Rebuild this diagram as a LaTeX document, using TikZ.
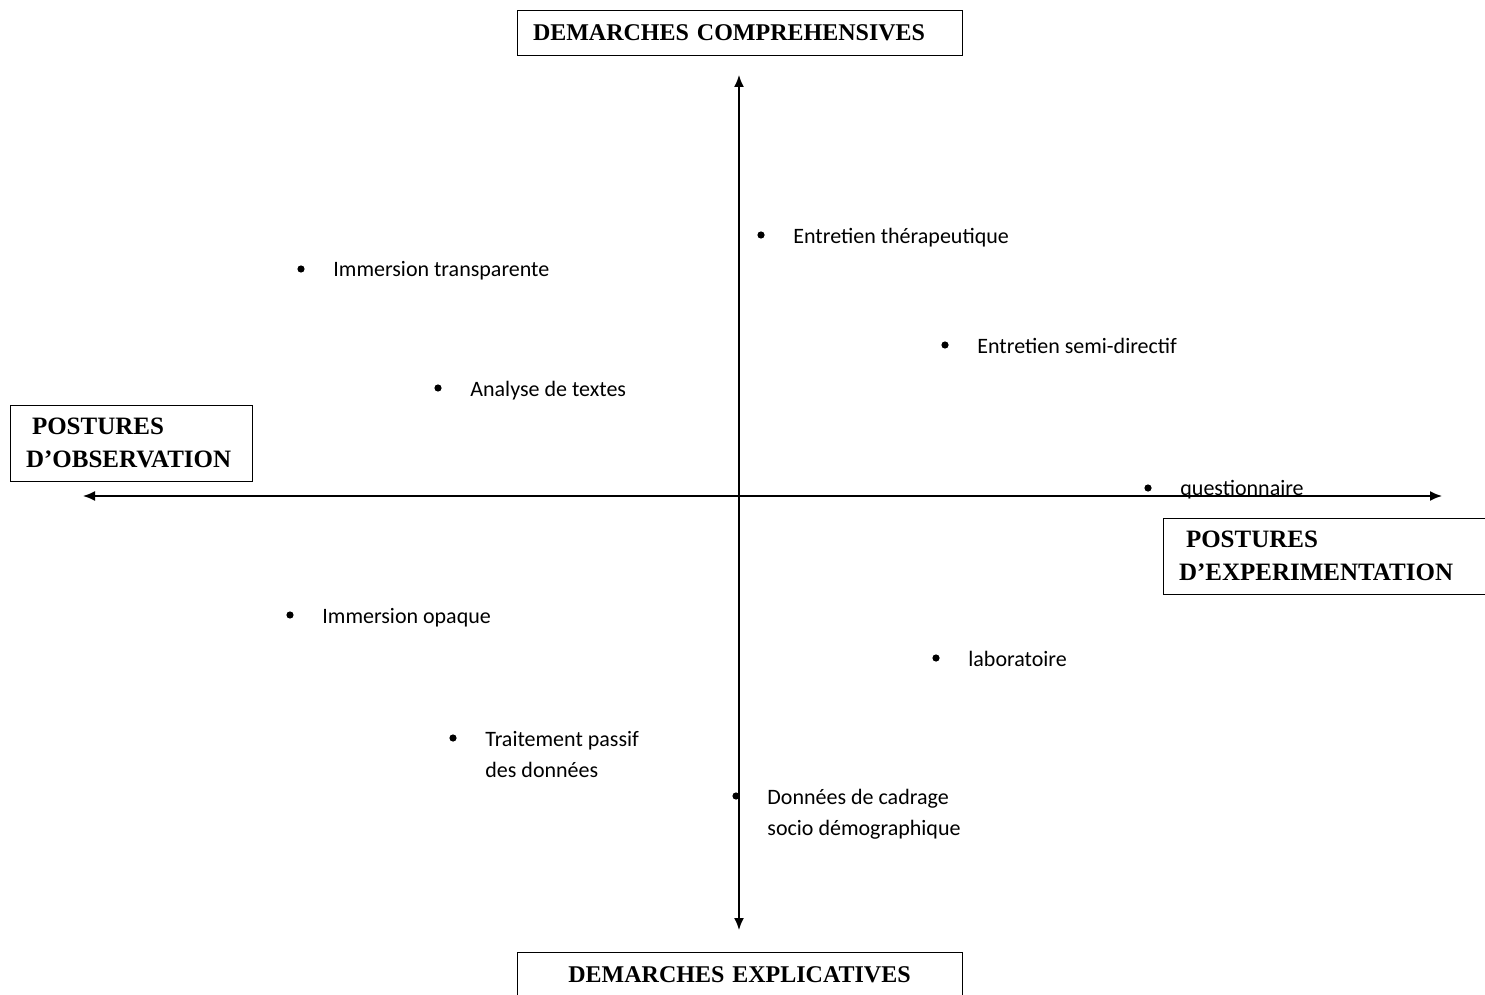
\documentclass[tikz,border=0pt]{standalone}
\usepackage{fontspec}
\setmainfont{Liberation Serif}
\newfontfamily\calibfont{Carlito}
\usetikzlibrary{arrows.meta}

\begin{document}
\begin{tikzpicture}[x=0.5pt,y=-0.5pt,
  titlebox/.style={draw,line width=0.5pt,inner xsep=8pt,inner ysep=0pt,
    font=\fontsize{12pt}{16pt}\selectfont\bfseries},
  sidebox/.style={titlebox,align=left,minimum height=38pt,
    font=\fontsize{12.5pt}{16.25pt}\selectfont\bfseries},
  puce/.style={circle,fill,inner sep=0pt,minimum size=3.6pt},
  item/.style={anchor=base west,inner sep=0pt,align=left,
    font=\calibfont\fontsize{11pt}{15.5pt}\selectfont},
  axe/.style={line width=0.8pt,{Latex[length=6pt,width=5pt]}-{Latex[length=6pt,width=5pt]}}]
\useasboundingbox (0,0) rectangle (1485,995);
\node[titlebox,text width=206.5pt,align=left,minimum height=22.5pt] (compr) at (739.5,33) {DEMARCHES COMPREHENSIVES};
\node[titlebox,text width=206.5pt,align=center,minimum height=22.5pt] (expl) at (739.5,975) {DEMARCHES EXPLICATIVES};
\node[sidebox,text width=105pt] (obs) at (131,443) {\hspace*{3pt}POSTURES\\D’OBSERVATION};
\node[sidebox,text width=150pt] (exper) at (1329,556) {\hspace*{3.5pt}POSTURES\\D’EXPERIMENTATION};
\coordinate (haut) at (739,75);
\coordinate (bas) at (739,930);
\coordinate (gauche) at (83,496);
\coordinate (droite) at (1442,496);
\draw[axe] (bas) -- (haut);
\draw[axe] (gauche) -- (droite);
\node[puce] (p1) at (761,235) {};
\node[item] (therap) at (793,243) {Entretien thérapeutique};
\node[puce] (p2) at (301,269) {};
\node[item] (transp) at (333,277) {Immersion transparente};
\node[puce] (p3) at (945,345) {};
\node[item] (semidir) at (977,353) {Entretien semi-directif};
\node[puce] (p4) at (438,388) {};
\node[item] (textes) at (470,396) {Analyse de textes};
\node[puce] (p5) at (1148,488) {};
\node[item] (quest) at (1180,495) {questionnaire};
\node[puce] (p6) at (290,615) {};
\node[item] (opaque) at (322,623) {Immersion opaque};
\node[puce] (p7) at (936,658) {};
\node[item] (labo) at (968,666) {laboratoire};
\node[puce] (p8) at (453,738) {};
\node[item] (passif) at (485,777) {Traitement passif\\des données};
\node[puce] (p9) at (736,796) {};
\node[item] (cadrage) at (767,835) {Données de cadrage\\socio démographique};
\end{tikzpicture}
\end{document}
